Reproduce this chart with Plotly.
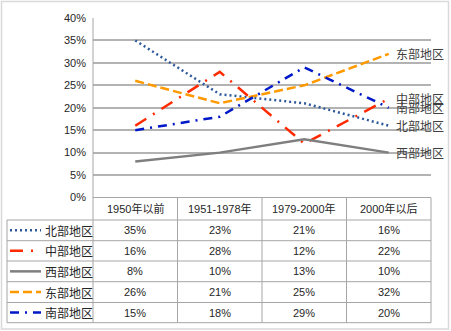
import plotly.graph_objects as go

categories = ["1950年以前", "1951-1978年", "1979-2000年", "2000年以后"]
series_names = ["北部地区", "中部地区", "西部地区", "东部地区", "南部地区"]
north = [0.35, 0.23, 0.21, 0.16]
central = [0.16, 0.28, 0.12, 0.22]
west = [0.08, 0.10, 0.13, 0.10]
east = [0.26, 0.21, 0.25, 0.32]
south = [0.15, 0.18, 0.29, 0.20]
series_values = [north, central, west, east, south]
y_ticks = [0, 0.05, 0.10, 0.15, 0.20, 0.25, 0.30, 0.35, 0.40]

colors = ["#2E5A9C", "#FF2A00", "#7F7F7F", "#FF9900", "#0018C8"]
dashes = ["2px,3px", "13px,8px,2px,8px", "solid", "9px,4px", "9px,6px,2px,6px"]

W, H = 451, 331
def px(x):
    return x / W
def py(y):
    return 1 - y / H

L, R, T, B = 93, 431, 18, 197.5
row_edges = [197.5, 220, 240.7, 261, 281.7, 302.5, 322.7]
col_w = (R - L) / 4

fig = go.Figure()
xs = list(range(len(categories)))
for name, vals, c, d in zip(series_names, series_values, colors, dashes):
    fig.add_trace(go.Scatter(x=xs, y=vals, mode="lines", name=name,
                             line=dict(color=c, width=2.5, dash=d),
                             showlegend=False, hoverinfo="skip"))

font_main = "Liberation Sans, Noto Sans CJK SC, sans-serif"
font_cjk = "Noto Sans CJK SC, sans-serif"

annotations = []
shapes = []
for name, vals in zip(series_names, series_values):
    annotations.append(dict(x=3, y=vals[-1], xref="x", yref="y", text=name,
                            showarrow=False, xanchor="left", yanchor="middle", xshift=5,
                            font=dict(family=font_cjk, size=12, color="#404040")))

grey = "#A6A6A6"
shapes.append(dict(type="line", xref="paper", yref="paper", x0=px(L), x1=px(R),
                   y0=py(row_edges[0]), y1=py(row_edges[0]), line=dict(color=grey, width=1)))
for ye in row_edges[1:]:
    shapes.append(dict(type="line", xref="paper", yref="paper", x0=px(7), x1=px(R),
                       y0=py(ye), y1=py(ye), line=dict(color=grey, width=1)))
shapes.append(dict(type="line", xref="paper", yref="paper", x0=px(7), x1=px(7),
                   y0=py(row_edges[1]), y1=py(row_edges[-1]), line=dict(color=grey, width=1)))
for i in range(5):
    xv = L + i * col_w
    shapes.append(dict(type="line", xref="paper", yref="paper", x0=px(xv), x1=px(xv),
                       y0=py(T if i == 0 else row_edges[0]), y1=py(row_edges[-1]),
                       line=dict(color=grey, width=1)))
shapes.append(dict(type="rect", xref="paper", yref="paper", x0=px(1.5), x1=px(448.5),
                   y0=py(329), y1=py(1.5), line=dict(color="#D9D9D9", width=1.5)))

for i, cat in enumerate(categories):
    annotations.append(dict(x=px(L + (i + 0.5) * col_w), y=py((row_edges[0] + row_edges[1]) / 2),
                            xref="paper", yref="paper", text=cat, showarrow=False,
                            xanchor="center", yanchor="middle",
                            font=dict(family=font_main, size=11, color="#262626")))
for r, (name, vals, c, d) in enumerate(zip(series_names, series_values, colors, dashes)):
    yc = (row_edges[r + 1] + row_edges[r + 2]) / 2
    shapes.append(dict(type="line", xref="paper", yref="paper", x0=px(10), x1=px(41),
                       y0=py(yc), y1=py(yc), line=dict(color=c, width=2.5, dash=d)))
    annotations.append(dict(x=px(43), y=py(yc), xref="paper", yref="paper", text=name,
                            showarrow=False, xanchor="left", yanchor="middle",
                            font=dict(family=font_cjk, size=12, color="#262626")))
    for i, v in enumerate(vals):
        annotations.append(dict(x=px(L + (i + 0.5) * col_w), y=py(yc), xref="paper", yref="paper",
                                text=f"{round(v * 100)}%", showarrow=False,
                                xanchor="center", yanchor="middle",
                                font=dict(family=font_main, size=11, color="#262626")))

fig.update_layout(
    width=W, height=H, margin=dict(l=0, r=0, t=0, b=0, autoexpand=False),
    paper_bgcolor="white", plot_bgcolor="white",
    xaxis=dict(domain=[px(L), px(R)], range=[-0.5, 3.5], showticklabels=False,
               showgrid=False, zeroline=False, showline=False, fixedrange=True,
               automargin=False),
    yaxis=dict(domain=[py(B), py(T)], range=[0, 0.4], tickvals=y_ticks, tickformat=".0%",
               showgrid=True, gridcolor="#B3B3B3", gridwidth=1.5, zeroline=False,
               showline=False, ticks="", ticklabelstandoff=6, automargin=False,
               tickfont=dict(family=font_main, size=11, color="#262626")),
    shapes=shapes, annotations=annotations,
)
fig.write_html("out.html", config={"displayModeBar": False},
               post_script="document.body.style.margin='0';")
